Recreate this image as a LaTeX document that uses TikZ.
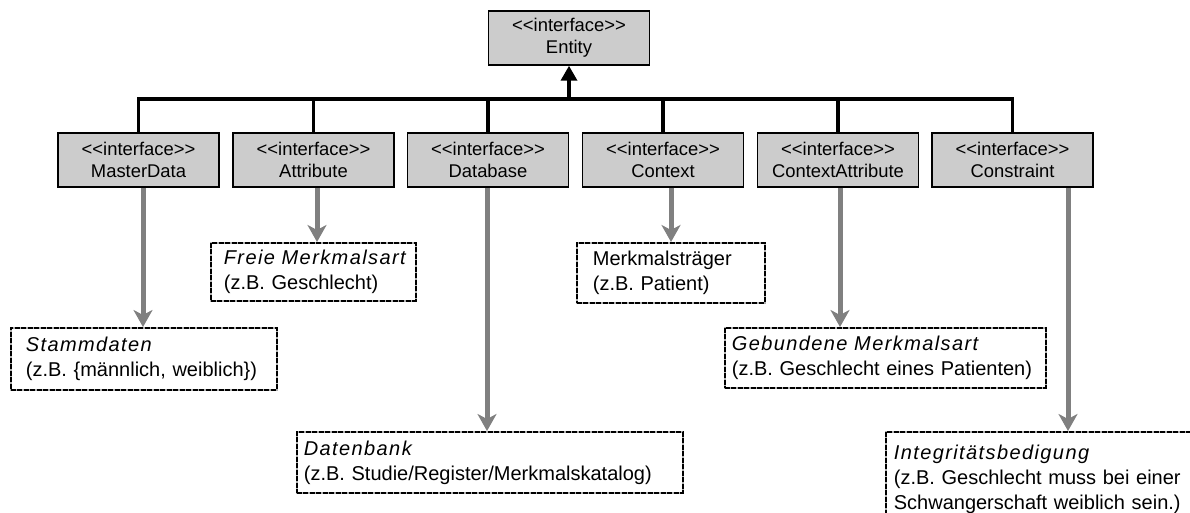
\documentclass[tikz,border=0pt]{standalone}
\usepackage{fontspec}
\setmainfont{Liberation Sans}
\newfontfamily\spacedit{Liberation Sans}[LetterSpace=7]
\usetikzlibrary{arrows.meta}
\definecolor{boxgray}{HTML}{CCCCCC}
\definecolor{arrowgray}{HTML}{808080}
\tikzset{
  iface/.style={draw=black, line width=1.5pt, fill=boxgray,
    minimum width=161pt, minimum height=54pt, align=center, inner sep=0pt,
    font=\fontsize{18.4}{22}\selectfont},
  note/.style={anchor=north west, draw=black, line width=1.7pt,
    dash pattern=on 5pt off 1.5pt,
    preaction={draw=gray!60, solid, line width=1.7pt},
    align=left, inner ysep=0pt, font=\fontsize{20}{25}\selectfont},
  bus/.style={line width=3.5pt, line join=miter},
  garrow/.style={draw=arrowgray, line width=5pt,
    -{Stealth[length=17pt,width=19pt,inset=5pt]}},
}
% stereotype brackets written as separate angle signs
\newcommand\stereo[1]{<\kern0pt<#1>\kern0pt>}
\newcommand\kindname[1]{{\spacedit\itshape #1}}
\begin{document}
\begin{tikzpicture}[x=1pt,y=-1pt]
\useasboundingbox (0,0) rectangle (1190,513);
\clip (0,0) rectangle (1190,513);

% interfaces
\node[iface] (ent)  at (569,38)    {\stereo{interface}\\Entity};
\node[iface] (md)   at (138.5,160) {\stereo{interface}\\MasterData};
\node[iface] (att)  at (313.5,160) {\stereo{interface}\\Attribute};
\node[iface] (db)   at (488,160)   {\stereo{interface}\\Database};
\node[iface] (ctx)  at (663,160)   {\stereo{interface}\\Context};
\node[iface] (catt) at (838,160)   {\stereo{interface}\\ContextAttribute};
\node[iface] (con)  at (1012.5,160){\stereo{interface}\\Constraint};

% inheritance bus
\coordinate (bus) at (569,99);
\draw[bus] (md.north) -- (md.north |- bus) -| (con.north);
\foreach \n in {att,db,ctx,catt}
  \draw[bus] (\n.north) -- (\n.north |- bus);
\draw[line width=3.5pt, -{Triangle[length=15pt,width=16pt]}] (bus) -- (ent.south);

% concept notes
\node[note, text width=236pt, inner xsep=15pt, minimum height=62pt] (stamm) at (10,327)
  {\mbox{\kindname{Stammdaten}}\\\mbox{(z.B. \{männlich, weiblich\})}};
\node[note, text width=179pt, inner xsep=13pt, minimum height=58pt] (freie) at (210,242)
  {\mbox{\kindname{Freie Merkmalsart}}\\\mbox{(z.B. Geschlecht)}};
\node[note, text width=372pt, inner xsep=7pt, minimum height=61pt] (daten) at (296,431)
  {\mbox{\kindname{Datenbank}}\\\mbox{(z.B. Studie/Register/Merkmalskatalog)}};
\node[note, text width=156pt, inner xsep=16pt, minimum height=60pt] (traeger) at (576,242)
  {\mbox{Merkmalsträger}\\\mbox{(z.B. Patient)}};
\node[note, text width=307pt, inner xsep=7pt, minimum height=60pt] (gebund) at (724,327)
  {\mbox{\kindname{Gebundene Merkmalsart}}\\\mbox{(z.B. Geschlecht eines Patienten)}};
\node[note, text width=314pt, inner xsep=8pt, minimum height=94pt] (integ) at (885,431)
  {\mbox{\kindname{Integritätsbedigung}}\\\mbox{(z.B. Geschlecht muss bei einer}\\\mbox{Schwangerschaft weiblich sein.)}};

% realisation arrows
\draw[garrow] ([xshift=4.5pt]md.south)  -- ([xshift=4.5pt]md.south |- stamm.north);
\draw[garrow] ([xshift=3.5pt]att.south) -- ([xshift=3.5pt]att.south |- freie.north);
\draw[garrow] ([xshift=-1pt]db.south)   -- ([xshift=-1pt]db.south |- daten.north);
\draw[garrow] ([xshift=8pt]ctx.south)   -- ([xshift=8pt]ctx.south |- traeger.north);
\draw[garrow] ([xshift=2pt]catt.south)  -- ([xshift=2pt]catt.south |- gebund.north);
\draw[garrow] ([xshift=55.5pt]con.south) -- ([xshift=55.5pt]con.south |- integ.north);
\end{tikzpicture}
\end{document}
